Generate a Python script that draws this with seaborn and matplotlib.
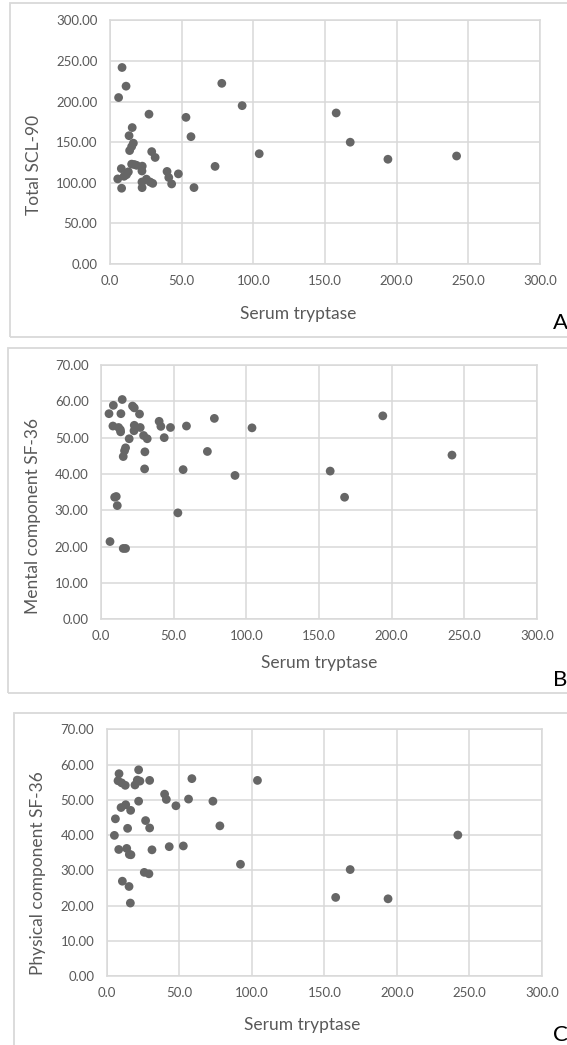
import numpy as np
import pandas as pd
import matplotlib
matplotlib.use("Agg")
import matplotlib.pyplot as plt
from matplotlib.patches import Rectangle
from matplotlib.ticker import FuncFormatter, MultipleLocator
import seaborn as sns

# ---------------- data ----------------
tryptase_a = [8.4, 11.2, 6.0, 27.2, 15.5, 13.3, 16.3, 15.1, 13.7, 29.1, 31.5, 53.0, 56.5,
              78.0, 92.2, 104.1, 73.3, 58.6, 47.7, 39.8, 41.0, 43.0, 5.4, 7.9, 8.1, 9.8,
              11.5, 12.8, 15.1, 17.0, 18.6, 22.5, 22.3, 22.3, 22.4, 25.4, 28.0, 29.8,
              157.8, 167.6, 193.9, 241.8]
scl90_total = [242, 219, 205, 184.5, 168, 158, 148.8, 144.6, 139.7, 138.4, 131.2, 180.6, 156.8,
               222.5, 195, 135.8, 120.2, 94.1, 111, 114, 106.5, 98.6, 104.8, 117.5, 93.3, 108,
               110, 113.5, 123, 122.5, 121.5, 120.5, 114.5, 101, 94, 104.5, 101, 99.3,
               186, 150, 129, 133]

tryptase_b = [14.6, 8.5, 5.5, 13.7, 21.7, 22.9, 26.5, 8.2, 12.1, 13.3, 13.5, 22.9, 22.7, 27.0,
              19.4, 29.3, 31.8, 16.9, 16.2, 15.3, 30.2, 30.0, 40.0, 41.2, 47.8, 43.5, 58.8,
              78.0, 73.2, 56.5, 92.2, 103.9, 9.4, 10.5, 11.2, 52.9, 6.2, 15.3, 16.9,
              157.7, 167.6, 193.9, 241.5]
sf36_mental = [60.5, 58.9, 56.6, 56.6, 58.7, 58.2, 56.5, 53.2, 52.8, 52.2, 51.6, 53.4, 51.9, 52.8,
               49.7, 50.6, 49.7, 47.2, 46.4, 44.8, 46.1, 41.4, 54.5, 53.1, 52.8, 50.0, 53.2,
               55.3, 46.2, 41.2, 39.6, 52.7, 33.6, 33.8, 31.3, 29.3, 21.4, 19.5, 19.5,
               40.8, 33.6, 56.0, 45.2]

tryptase_c = [8.5, 22.0, 7.8, 10.3, 12.8, 19.5, 21.1, 22.9, 29.6, 22.0, 9.9, 13.1, 16.5, 6.0,
              5.3, 14.4, 26.8, 29.6, 8.3, 13.8, 15.6, 16.7, 31.2, 25.9, 29.1, 10.8, 15.4, 16.3,
              39.9, 41.1, 47.7, 43.1, 52.8, 56.4, 58.7, 73.2, 78.0, 92.2, 103.9,
              157.8, 167.8, 193.9, 242.0]
sf36_physical = [57.4, 58.5, 55.4, 54.8, 54.1, 54.2, 55.6, 55.3, 55.5, 49.6, 47.8, 48.6, 47.0, 44.6,
                 39.9, 41.9, 44.1, 42.0, 35.9, 36.2, 34.5, 34.4, 35.8, 29.4, 29.0, 26.9, 25.4, 20.7,
                 51.6, 50.1, 48.3, 36.7, 36.9, 50.2, 56.0, 49.6, 42.6, 31.7, 55.5,
                 22.3, 30.2, 21.9, 40.0]

x_label = "Serum tryptase"
y_labels = ["Total SCL-90", "Mental component SF-36", "Physical component SF-36"]
panel_letters = ["A", "B", "C"]
x_ticks = [0, 50, 100, 150, 200, 250, 300]

# ---------------- style ----------------
sns.set_theme(style="white")
plt.rcParams["font.family"] = ["Lato", "DejaVu Sans"]

W, H = 567, 1045
fig = plt.figure(figsize=(W / 100, H / 100), dpi=100)

GRID = "#d9d9d9"
TXT = "#595959"
DOT = "#666666"


def fx(px):
    return px / W


def fy(py):
    return 1 - py / H


# chart-area boxes (left, top, right, bottom) in pixels
boxes = [(10, 3, 575, 337), (8, 348, 575, 693), (14, 713, 575, 1055)]
for (l, t, r, b) in boxes:
    fig.patches.append(Rectangle((fx(l), fy(b)), fx(r) - fx(l), fy(t) - fy(b),
                                 transform=fig.transFigure, fill=False,
                                 edgecolor=GRID, linewidth=1.3))

# plot areas (left, top, right, bottom) in pixels
areas = [(110, 20.4, 540, 264), (101, 365, 537, 619.3), (106.7, 729.3, 542, 976)]
ylims = [(0, 300, 50), (0, 70, 10), (0, 70, 10)]
xlabel_pos = [(298, 314), (319.5, 663), (302.5, 1025)]
ylabel_pos = [(34, 164.5), (32.5, 516), (38, 873)]
letter_pos = [(553, 323), (553, 680), (553, 1035)]

datasets = [
    pd.DataFrame({"x": tryptase_a, "y": scl90_total}),
    pd.DataFrame({"x": tryptase_b, "y": sf36_mental}),
    pd.DataFrame({"x": tryptase_c, "y": sf36_physical}),
]

for i, df in enumerate(datasets):
    l, t, r, b = areas[i]
    ax = fig.add_axes([fx(l), fy(b), fx(r) - fx(l), fy(t) - fy(b)])
    sns.scatterplot(data=df, x="x", y="y", ax=ax, color=DOT, s=40,
                    edgecolor="none", linewidth=0, zorder=3, clip_on=False)
    ax.set_xlim(0, 300)
    y0, y1, ystep = ylims[i]
    ax.set_ylim(y0, y1)
    ax.set_xticks(x_ticks)
    ax.yaxis.set_major_locator(MultipleLocator(ystep))
    ax.xaxis.set_major_formatter(FuncFormatter(lambda v, p: f"{v:.1f}"))
    ax.yaxis.set_major_formatter(FuncFormatter(lambda v, p: f"{v:.2f}"))
    ax.grid(True, color=GRID, linewidth=1.1)
    ax.set_axisbelow(True)
    for sp in ax.spines.values():
        sp.set_visible(True)
        sp.set_color(GRID)
        sp.set_linewidth(1.1)
    ax.tick_params(axis="both", length=0, labelsize=9.5, labelcolor=TXT)
    ax.tick_params(axis="x", pad=8)
    ax.tick_params(axis="y", pad=9)

    ax.set_xlabel(x_label, fontsize=12.5, color=TXT, va="center")
    xl, yl = xlabel_pos[i]
    ax.xaxis.set_label_coords((xl - l) / (r - l), (b - yl) / (b - t))
    ax.set_ylabel(y_labels[i], fontsize=12.5, color=TXT, va="center")
    xl, yl = ylabel_pos[i]
    ax.yaxis.set_label_coords((xl - l) / (r - l), (b - yl) / (b - t))

    lx, ly = letter_pos[i]
    fig.text(fx(lx), fy(ly), panel_letters[i], fontsize=16, color="black",
             ha="left", va="center")

fig.savefig("out.png", dpi=100)
